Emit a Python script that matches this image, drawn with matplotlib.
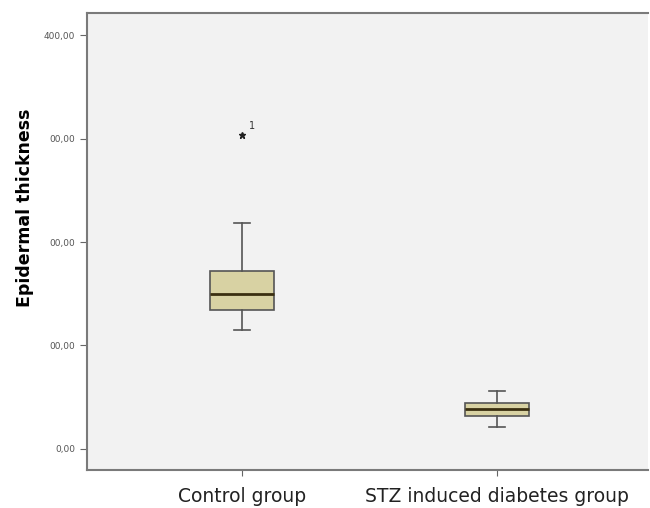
import matplotlib.pyplot as plt

# Box summary stats
groups = ["Control group", "STZ induced diabetes group"]
medians = [149.8, 38.4]
q1 = [134.3, 31.9]
q3 = [172.3, 44.0]
whisk_lo = [115.0, 21.5]
whisk_hi = [218.6, 56.3]
outliers = [[304.0], []]
outlier_ids = [["1"], []]

ytick_vals = [0, 100, 200, 300, 400]
ytick_labels = ["0,00", "00,00", "00,00", "00,00", "400,00"]

stats = []
for i, g in enumerate(groups):
    stats.append({"label": g, "med": medians[i], "q1": q1[i], "q3": q3[i],
                  "whislo": whisk_lo[i], "whishi": whisk_hi[i], "fliers": outliers[i]})

fig = plt.figure(figsize=(6.5, 5.08), dpi=100)
ax = fig.add_axes([0.134, 0.075, 0.863, 0.899])
ax.set_facecolor("#f2f2f2")

ax.bxp(stats, positions=[1, 2], widths=0.25, capwidths=0.065, patch_artist=True,
       boxprops=dict(facecolor="#d8d2a3", edgecolor="#555555", linewidth=1.2),
       medianprops=dict(color="#3a2f10", linewidth=2),
       whiskerprops=dict(color="#555555", linewidth=1.2),
       capprops=dict(color="#555555", linewidth=1.2),
       flierprops=dict(marker="*", markersize=5, markerfacecolor="#222222",
                       markeredgecolor="#222222"))

for i, ids in enumerate(outlier_ids):
    for val, lab in zip(outliers[i], ids):
        ax.annotate(lab, (i + 1, val), xytext=(5, 4), textcoords="offset points",
                    fontsize=7, color="#333333")

ax.set_xlim(0.392, 2.592)
ax.set_ylim(-20.3, 421.3)
ax.set_xticks([1, 2])
ax.set_xticklabels(groups, fontsize=13.5, color="#222222")
ax.set_yticks(ytick_vals)
ax.set_yticklabels(ytick_labels, fontsize=6.5, color="#555555")
ax.tick_params(axis="x", length=4, color="#666666", pad=8)
ax.tick_params(axis="y", length=5, color="#666666")
ax.set_ylabel("Epidermal thickness", fontsize=12.5, fontweight="bold")
ax.yaxis.set_label_coords(-0.095, 0.575)

for side in ["left", "bottom", "top"]:
    ax.spines[side].set_color("#7a7a7a")
    ax.spines[side].set_linewidth(1.5)
ax.spines["right"].set_visible(False)

fig.savefig("out.png", dpi=100)
